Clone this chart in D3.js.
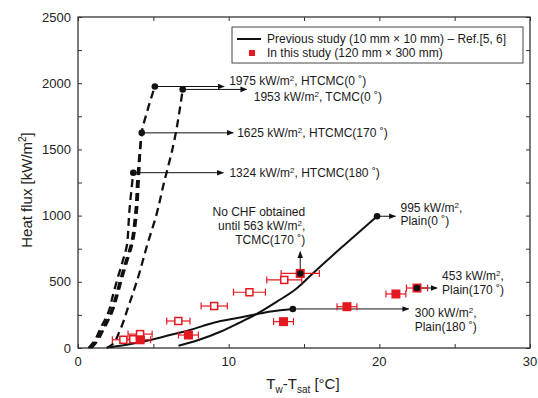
<!DOCTYPE html>
<html>
<head>
<meta charset="utf-8">
<script src="https://cdn.jsdelivr.net/npm/d3@7"></script>
<style>
    body { margin: 0; background: #fff; }
    svg { display: block; font-family: "Liberation Sans", Arial, sans-serif; }
</style>
</head>
<body>
<svg id="chart" width="538" height="398"></svg>
<script>
const xTicks = [0, 10, 20, 30];
const yTicks = [0, 500, 1000, 1500, 2000, 2500];

// previous study, [Tw-Tsat, q]
const curveHtcmc0 = [[0.9, 0], [1.2, 40], [1.75, 150], [2.3, 280], [2.6, 390], [2.9, 515], [3.25, 650], [3.6, 780], [3.9, 1020], [4.05, 1300], [4.23, 1625], [4.6, 1790], [5.1, 1975]];
const curveTcmc0 = [[1.9, 0], [2.24, 23], [2.79, 136], [3.34, 312], [4.0, 538], [4.56, 765], [5.23, 1017], [5.67, 1231], [6.33, 1533], [6.95, 1953]];
const curveHtcmc170 = [[0.8, 0], [1.1, 40], [1.65, 150], [2.2, 280], [2.5, 390], [2.8, 515], [3.15, 650], [3.5, 780], [3.8, 1020], [3.95, 1300], [4.23, 1625]];
const curveHtcmc180 = [[0.7, 0], [1.0, 40], [1.5, 150], [2.05, 280], [2.3, 390], [2.6, 515], [2.95, 650], [3.25, 780], [3.4, 1020], [3.55, 1200], [3.67, 1324]];
const curvePlain0 = [[6.67, 17], [8.0, 60], [9.44, 123], [10.6, 185], [11.83, 255], [13.2, 350], [14.53, 451], [15.6, 565], [17.7, 780], [19.85, 995]];
const curvePlain180 = [[2.1, 5], [3.5, 30], [4.8, 60], [6.1, 98], [7.44, 136], [9.0, 191], [10.76, 230], [11.83, 255], [12.8, 276], [14.26, 295]];

// CHF points (black dots) and where their arrows end
const chfNames = ["htcmc0", "tcmc0", "htcmc170", "htcmc180", "plain0", "plain170", "plain180", "tcmc170"];
const chfX = [5.1, 6.95, 4.23, 3.67, 19.85, 22.5, 14.26, 14.75];
const chfQ = [1975, 1953, 1625, 1324, 995, 453, 295, 563];
const arrowEndX = [9.7, 11.2, 10.3, 9.65, 21.07, 23.83, 21.95, 14.75];
const arrowEndQ = [1975, 1953, 1625, 1324, 995, 453, 295, 727];

// this study (red), hollow and filled squares with x error
const openX = [3.01, 3.67, 4.12, 6.66, 9.04, 11.38, 13.69];
const openQ = [62, 66, 105, 204, 317, 421, 514];
const openErr = [0.73, 0.73, 0.8, 0.77, 0.87, 1.06, 1.16];
const fillX = [4.12, 7.33, 13.64, 14.75, 17.85, 21.1, 22.5];
const fillQ = [62, 98, 199, 563, 312, 408, 453];
const fillErr = [0.7, 0.66, 0.66, 1.27, 0.66, 0.66, 0.7];

// annotation texts; a "^" marks the superscript 2
const labelLines = [
    ["1975 kW/m^, HTCMC(0 \u02da)"],
    ["1953 kW/m^, TCMC(0 \u02da)"],
    ["1625 kW/m^, HTCMC(170 \u02da)"],
    ["1324 kW/m^, HTCMC(180 \u02da)"],
    ["995 kW/m^,", "Plain(0 \u02da)"],
    ["453 kW/m^,", "Plain(170 \u02da)"],
    ["300 kW/m^,", "Plain(180 \u02da)"],
    ["No CHF obtained", "until 563 kW/m^,", "TCMC(170 \u02da)"]
];

const red = "#e3191f";
const width = 538, height = 398;
const margin = { top: 17, right: 8, bottom: 50, left: 78 };

const x = d3.scaleLinear().domain([0, 30]).range([margin.left, width - margin.right]);
const y = d3.scaleLinear().domain([0, 2500]).range([height - margin.bottom, margin.top]);

const svg = d3.select("#chart");
svg.append("rect").attr("width", width).attr("height", height).attr("fill", "#fff");

const defs = svg.append("defs");
defs.append("marker")
    .attr("id", "arrow")
    .attr("viewBox", "0 0 10 10")
    .attr("refX", 9).attr("refY", 5)
    .attr("markerWidth", 7).attr("markerHeight", 7)
    .attr("markerUnits", "userSpaceOnUse")
    .attr("orient", "auto")
    .append("path")
    .attr("d", "M0,1 L10,5 L0,9 z")
    .attr("fill", "#111");

// axes, ticks inside
const tickLen = 4;
const axisG = svg.append("g");
axisG.append("g")
    .attr("transform", "translate(0," + y(0) + ")")
    .call(d3.axisBottom(x).tickValues(d3.range(0, 31, 5)).tickSize(-tickLen).tickFormat(""));
axisG.append("g")
    .attr("transform", "translate(0," + y(2500) + ")")
    .call(d3.axisTop(x).tickValues(d3.range(0, 31, 5)).tickSize(-tickLen).tickFormat(""));
axisG.append("g")
    .attr("transform", "translate(" + x(0) + ",0)")
    .call(d3.axisLeft(y).tickValues(d3.range(0, 2501, 250)).tickSize(-tickLen).tickFormat(""));
axisG.append("g")
    .attr("transform", "translate(" + x(30) + ",0)")
    .call(d3.axisRight(y).tickValues(d3.range(0, 2501, 250)).tickSize(-tickLen).tickFormat(""));
axisG.selectAll(".domain").remove();
axisG.selectAll(".tick line").attr("stroke", "#333").attr("stroke-width", 1);

svg.append("rect")
    .attr("x", x(0)).attr("y", y(2500))
    .attr("width", x(30) - x(0)).attr("height", y(0) - y(2500))
    .attr("fill", "none").attr("stroke", "#333").attr("stroke-width", 1.3);

// tick labels
svg.append("g").selectAll("text").data(xTicks).join("text")
    .attr("x", d => x(d)).attr("y", y(0) + 18)
    .attr("text-anchor", "middle").attr("font-size", 13).attr("fill", "#222")
    .text(d => d);
svg.append("g").selectAll("text").data(yTicks).join("text")
    .attr("x", x(0) - 7).attr("y", d => y(d)).attr("dy", "0.36em")
    .attr("text-anchor", "end").attr("font-size", 13).attr("fill", "#222")
    .text(d => d);

// axis titles
const yTitle = svg.append("text")
    .attr("transform", "translate(32," + 190 + ") rotate(-90)")
    .attr("text-anchor", "middle").attr("font-size", 15).attr("fill", "#222");
yTitle.append("tspan").text("Heat flux [kW/m");
yTitle.append("tspan").attr("font-size", 10).attr("dy", -6).text("2");
yTitle.append("tspan").attr("dy", 6).text("]");

const xTitle = svg.append("text")
    .attr("x", 303).attr("y", 389)
    .attr("text-anchor", "middle").attr("font-size", 15).attr("fill", "#222");
xTitle.append("tspan").text("T");
xTitle.append("tspan").attr("font-size", 10).attr("dy", 4).text("w");
xTitle.append("tspan").attr("dy", -4).text("-T");
xTitle.append("tspan").attr("font-size", 10).attr("dy", 4).text("sat");
xTitle.append("tspan").attr("dy", -4).text(" [\u00b0C]");

// curves
const line = d3.line().x(d => x(d[0])).y(d => y(d[1])).curve(d3.curveMonotoneX);
const lineY = d3.line().x(d => x(d[0])).y(d => y(d[1])).curve(d3.curveMonotoneY);
const plot = svg.append("g");

[curveHtcmc180, curveHtcmc170, curveHtcmc0, curveTcmc0].forEach(function (c) {
    plot.append("path")
        .attr("d", lineY(c))
        .attr("fill", "none").attr("stroke", "#111")
        .attr("stroke-width", 2.3).attr("stroke-dasharray", "8,5");
});
[curvePlain0, curvePlain180].forEach(function (c) {
    plot.append("path")
        .attr("d", line(c))
        .attr("fill", "none").attr("stroke", "#111").attr("stroke-width", 2);
});

// arrows from CHF points
plot.selectAll(".chf-arrow").data(chfX).join("line")
    .attr("class", "chf-arrow")
    .attr("x1", d => x(d)).attr("y1", (d, i) => y(chfQ[i]))
    .attr("x2", (d, i) => x(arrowEndX[i])).attr("y2", (d, i) => y(arrowEndQ[i]))
    .attr("stroke", "#111").attr("stroke-width", 1)
    .attr("marker-end", "url(#arrow)");

// red error bars and squares
const errorBars = function (g, xs, qs, errs) {
    xs.forEach(function (xv, i) {
        const yy = y(qs[i]);
        g.append("line")
            .attr("x1", x(xv - errs[i])).attr("x2", x(xv + errs[i]))
            .attr("y1", yy).attr("y2", yy)
            .attr("stroke", red).attr("stroke-width", 1.2);
        [xv - errs[i], xv + errs[i]].forEach(function (e) {
            g.append("line")
                .attr("x1", x(e)).attr("x2", x(e))
                .attr("y1", yy - 3.5).attr("y2", yy + 3.5)
                .attr("stroke", red).attr("stroke-width", 1.2);
        });
    });
};
const redG = svg.append("g");
errorBars(redG, openX, openQ, openErr);
errorBars(redG, fillX, fillQ, fillErr);

redG.selectAll(".open").data(openX).join("rect")
    .attr("class", "open")
    .attr("x", d => x(d) - 3.5).attr("y", (d, i) => y(openQ[i]) - 3.5)
    .attr("width", 7).attr("height", 7)
    .attr("fill", "#fff").attr("stroke", red).attr("stroke-width", 1.5);
redG.selectAll(".filled").data(fillX).join("rect")
    .attr("class", "filled")
    .attr("x", d => x(d) - 4.5).attr("y", (d, i) => y(fillQ[i]) - 4.5)
    .attr("width", 9).attr("height", 9)
    .attr("fill", red);

// black CHF dots
svg.append("g").selectAll("circle").data(chfX).join("circle")
    .attr("cx", d => x(d)).attr("cy", (d, i) => y(chfQ[i]))
    .attr("r", 3.3).attr("fill", "#111");

// annotation layout: offset from arrow end (px), anchor, line height
const labelLayout = [
    { dx: 5, dy: -6, anchor: "start" },
    { dx: 7, dy: 7.5, anchor: "start" },
    { dx: 4, dy: 0, anchor: "start" },
    { dx: 6, dy: 0, anchor: "start" },
    { dx: 5, dy: -8, anchor: "start" },
    { dx: 5, dy: -12, anchor: "start" },
    { dx: 6, dy: 4, anchor: "start" },
    { dx: 5, dy: -40, anchor: "end" }
];
const lineGap = [0, 0, 0, 0, 13, 13.5, 13.5, 14];

const writeLine = function (t, str) {
    const parts = str.split("^");
    t.append("tspan").text(parts[0]);
    if (parts.length > 1) {
        t.append("tspan").attr("font-size", 8).attr("dy", -4).text("2");
        t.append("tspan").attr("dy", 4).text(parts[1]);
    }
};

const annG = svg.append("g").attr("font-size", 12).attr("fill", "#1a1a1a");
labelLines.forEach(function (lines, i) {
    const lay = labelLayout[i];
    const ax = x(arrowEndX[i]) + lay.dx;
    const ay = y(arrowEndQ[i]) + lay.dy;
    lines.forEach(function (str, j) {
        const t = annG.append("text")
            .attr("x", ax).attr("y", ay + j * lineGap[i])
            .attr("dy", "0.35em")
            .attr("text-anchor", lay.anchor);
        writeLine(t, str);
    });
});

// legend
const legend = svg.append("g").attr("transform", "translate(232,27)");
legend.append("rect")
    .attr("width", 291).attr("height", 36)
    .attr("fill", "#fff").attr("stroke", "#444").attr("stroke-width", 1);
legend.append("line")
    .attr("x1", 5).attr("x2", 29).attr("y1", 12).attr("y2", 12)
    .attr("stroke", "#111").attr("stroke-width", 2);
legend.append("rect")
    .attr("x", 17).attr("y", 23).attr("width", 6).attr("height", 6)
    .attr("fill", red);
legend.append("text")
    .attr("x", 35).attr("y", 12).attr("dy", "0.35em")
    .attr("font-size", 12).attr("fill", "#1a1a1a")
    .text("Previous study (10 mm \u00d7 10 mm) \u2013 Ref.[5, 6]");
legend.append("text")
    .attr("x", 35).attr("y", 26).attr("dy", "0.35em")
    .attr("font-size", 12).attr("fill", "#1a1a1a")
    .text("In this study (120 mm \u00d7 300 mm)");
</script>
</body>
</html>
